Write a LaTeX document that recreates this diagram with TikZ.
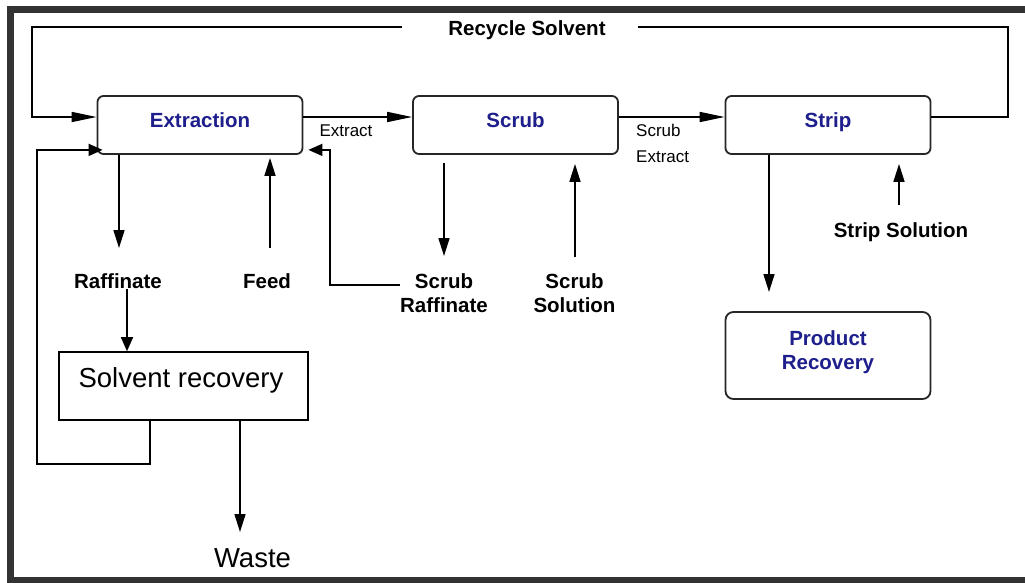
\documentclass[tikz,border=0pt]{standalone}
\usepackage{fontspec}
\setmainfont{Liberation Sans}
\usetikzlibrary{arrows.meta,calc}
\definecolor{frameg}{RGB}{51,51,51}
\definecolor{boxblue}{RGB}{30,30,140}
\newcommand{\bigbold}{\fontsize{20.5}{23.3}\selectfont\bfseries}
\newcommand{\smallreg}{\fontsize{17}{25}\selectfont}
\newcommand{\hugereg}{\fontsize{27.5}{32}\selectfont}
\begin{document}
\begin{tikzpicture}[x=1pt,y=-1pt,
  line/.style={line width=1.6pt, black},
  arrL/.style={line, -{Triangle[length=25pt,width=10pt]}},
  arrM/.style={line, -{Triangle[length=18pt,width=11pt]}},
  arrS/.style={line, -{Triangle[length=14pt,width=12pt]}},
  stage/.style={draw=black!85, line width=1.8pt, rounded corners=6pt, fill=white,
    inner sep=0pt, minimum width=205pt, minimum height=58pt,
    text height=15pt, text depth=9pt, text=boxblue, font=\bigbold},
  lab/.style={inner sep=0pt, font=\bigbold, anchor=base},
  small/.style={inner sep=0pt, font=\smallreg, anchor=base},
]
\useasboundingbox (0,0) rectangle (1025,583);
% frame (open on the right)
\draw[frameg, line width=6.5pt] (1030,9.5) -- (10.5,9.5) -- (10.5,580.3) -- (1030,580.3);

% stage boxes
\node[stage] (ext)   at (200,125)   {Extraction};
\node[stage] (scrub) at (515.5,125) {Scrub};
\node[stage] (strip) at (828,125)   {Strip};
\node[stage, minimum height=87pt, rounded corners=8pt, text height=17.5pt, text depth=37.1pt, align=center]
  (prod) at (828,355.5) {\begin{tabular}[t]{@{}c@{}}Product\\Recovery\end{tabular}};
\node[draw=black, line width=1.6pt, inner sep=0pt, minimum width=249pt, minimum height=68pt,
  text height=20pt, text depth=18pt, font=\hugereg] (solv) at (183.5,386) {\hspace*{-5pt}Solvent recovery};

% labels
\node[lab] (recyc) at (527,35.7) {Recycle Solvent};
\node[lab] (raff) at (118,288.7) {Raffinate};
\node[lab] (feed) at (267,288.7) {Feed};
\node[lab] (sraff) at (444,288.7) {\begin{tabular}[t]{@{}c@{}}Scrub\\Raffinate\end{tabular}};
\node[lab] (ssol) at (574.5,288.7) {\begin{tabular}[t]{@{}c@{}}Scrub\\Solution\end{tabular}};
\node[lab] (stsol) at (901,237.7) {Strip Solution};
\node[small] (extl) at (346,137) {Extract};
\node[small, anchor=base west, font=\fontsize{17}{25}\selectfont] (sextl) at (636,137) {\begin{tabular}[t]{@{}l@{}}Scrub\\Extract\end{tabular}};
\node[inner sep=0pt, font=\hugereg, anchor=base] (waste) at (252.5,567) {Waste};

% coordinates for free ends
\coordinate (rcR) at (1008,27);
\coordinate (rc1) at (638,27);
\coordinate (rc2) at (402,27);
\coordinate (rcL) at (32,27);
\coordinate (sr1) at (37,464);
\coordinate (sr2) at (330,285);
\coordinate (raffTip) at (119,248);
\coordinate (feedTail) at (270,248);
\coordinate (scrubTip) at (444,256);
\coordinate (ssolTail) at (575,257);
\coordinate (stripTip) at (769,292);
\coordinate (stsTail) at (899,205);
\coordinate (wasteTip) at (240,532);

% main flow
\draw[arrL] ([yshift=8pt]ext.east) -- ([yshift=8pt]scrub.west);
\draw[arrL] ([yshift=8pt]scrub.east) -- ([yshift=8pt]strip.west);
% recycle solvent
\draw[line] ([yshift=8pt]strip.east) -| (rcR) -- (rc1);
\draw[arrL] (rc2) -- (rcL) |- ([yshift=8pt]ext.west);

% extraction streams
\draw[arrM] (ext.south -| raffTip) -- (raffTip);
\draw[arrM] (feedTail) -- ($(feedTail |- ext.south)+(0,3)$);
\draw[arrS] (sraff.west |- sr2) -- (sr2) |- ($(ext.south east)+(5,-5)$);

% solvent recovery
\draw[arrS] ([xshift=9pt]raff.south) -- ([xshift=9pt]raff.south |- solv.north);
\draw[arrS] ([xshift=-33.5pt]solv.south) |- (sr1) |- ($(ext.south west)+(6,-5)$);
\draw[arrM] (solv.south -| wasteTip) -- (wasteTip);

% scrub streams
\draw[arrM] ($(scrub.south -| scrubTip)+(0,8)$) -- (scrubTip);
\draw[arrM] (ssolTail) -- ($(ssolTail |- scrub.south)+(0,9)$);

% strip streams
\draw[arrM] (strip.south -| stripTip) -- (stripTip);
\draw[arrM] (stsTail) -- ($(stsTail |- strip.south)+(0,9)$);
\end{tikzpicture}
\end{document}
